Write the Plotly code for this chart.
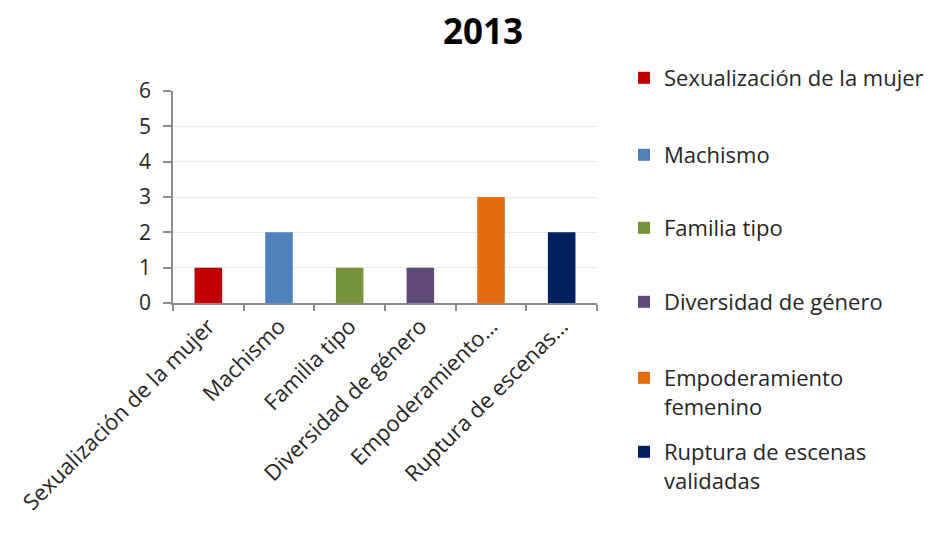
import plotly.graph_objects as go

categories = ["Sexualización de la mujer", "Machismo", "Familia tipo",
              "Diversidad de género", "Empoderamiento femenino",
              "Ruptura de escenas validadas"]
tick_labels = ["Sexualización de la mujer", "Machismo", "Familia tipo",
               "Diversidad de género", "Empoderamiento…", "Ruptura de escenas…"]
legend_labels = ["Sexualización de la mujer", "Machismo", "Familia tipo",
                 "Diversidad de género", "Empoderamiento<br>femenino",
                 "Ruptura de escenas<br>validadas"]
values = [1, 2, 1, 1, 3, 2]
colors = ["#C00000", "#4F81BD", "#77933C", "#604A7B", "#E46C0A", "#002060"]
y_ticks = [0, 1, 2, 3, 4, 5, 6]

FONT = "Open Sans, Lato, sans-serif"
OFF = 8  # page body margin
W, H = 930, 525
L, R, T, B = 173 - OFF, 597 - OFF, 91 - OFF, 303 - OFF

fig = go.Figure()
legend_first_line_y = [78, 155, 228, 302, 378, 452]
layout_legends = {}
for i, (cat, lab, v, c) in enumerate(zip(categories, legend_labels, values, colors)):
    key = "legend" if i == 0 else f"legend{i+1}"
    fig.add_trace(go.Bar(x=[cat], y=[v], name=lab, marker=dict(color=c, line=dict(width=0)),
                         width=0.39, legend=key, showlegend=True))
    py = legend_first_line_y[i] - OFF
    layout_legends[key] = dict(
        x=(624 - OFF - L) / (R - L), xanchor="left",
        y=(B - (py - 21)) / (B - T), yanchor="top",
        font=dict(family=FONT, size=22, color="#262626"),
        bgcolor="rgba(0,0,0,0)", borderwidth=0, valign="top",
        itemclick=False, itemdoubleclick=False,
    )

fig.update_layout(
    width=W, height=H,
    margin=dict(l=L, r=W - R, t=T, b=H - B, autoexpand=False),
    paper_bgcolor="white", plot_bgcolor="white",
    barmode="overlay",
    title=dict(text="<b>2013</b>", x=(483 - OFF) / W, xref="container",
               xanchor="center", y=1 - (31.5 - OFF) / H, yanchor="middle",
               font=dict(family=FONT, size=35, color="#000000")),
    font=dict(family=FONT, size=22, color="#262626"),
    xaxis=dict(
        type="category", categoryorder="array", categoryarray=categories,
        tickvals=categories, ticktext=tick_labels, tickangle=-45,
        showline=True, linecolor="#8C8C8C", linewidth=1.5,
        ticks="outside", tickson="boundaries", ticklen=6, tickcolor="#8C8C8C", tickwidth=1.5,
        showgrid=False, tickfont=dict(family=FONT, size=22, color="#262626"),
    ),
    yaxis=dict(
        range=[0, 6], tickvals=y_ticks, showline=True, linecolor="#8C8C8C", linewidth=1.5,
        ticks="outside", ticklen=8, tickcolor="#8C8C8C", tickwidth=1.5,
        showgrid=True, gridcolor="#EBEBEB", gridwidth=1, zeroline=False,
        ticklabelstandoff=8,
        tickfont=dict(family=FONT, size=21, color="#262626"),
    ),
    **layout_legends,
)

fig.write_html("out.html")
